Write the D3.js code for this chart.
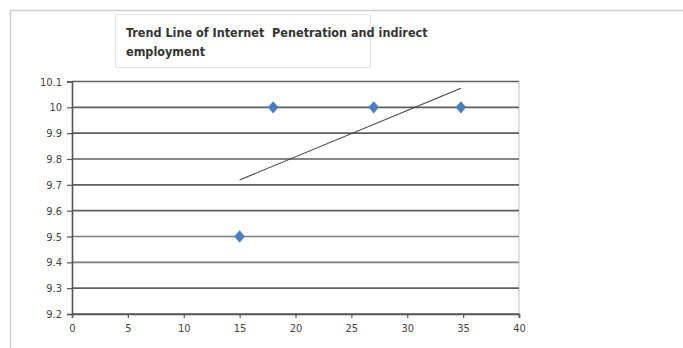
<!DOCTYPE html>
<html>
<head>
<meta charset="utf-8">
<script src="https://cdn.jsdelivr.net/npm/d3@7"></script>
<style>
  html, body { margin: 0; padding: 0; background: #fff; }
  svg { display: block; }
</style>
</head>
<body>
<svg id="chart" width="683" height="348"></svg>
<script>
// Internet penetration (x) vs indirect employment (y)
const penetration = [15, 18, 27, 34.8];
const employment = [9.5, 10, 10, 10];
const xTicks = [0, 5, 10, 15, 20, 25, 30, 35, 40];
const yTicks = [9.2, 9.3, 9.4, 9.5, 9.6, 9.7, 9.8, 9.9, 10, 10.1];
const titleLines = ["Trend Line of Internet\u00a0 Penetration and indirect", "employment"];

const svg = d3.select("#chart");
const W = 683, H = 348;

// outer chart frame
svg.append("rect")
  .attr("x", 10.5).attr("y", 10.5)
  .attr("width", W + 10).attr("height", H + 10)
  .attr("fill", "#fff").attr("stroke", "#cfcfcf").attr("stroke-width", 1.5);

// title box
svg.append("rect")
  .attr("x", 115.5).attr("y", 14.5)
  .attr("width", 255).attr("height", 53)
  .attr("fill", "#fff").attr("stroke", "#e4e4e4").attr("stroke-width", 1);

const title = svg.append("text")
  .attr("font-family", "'Liberation Sans Narrow', 'DejaVu Sans Condensed', sans-serif")
  .attr("font-weight", "bold")
  .attr("font-size", 12.5)
  .attr("fill", "#333");
titleLines.forEach((t, i) => {
  title.append("tspan").attr("x", 126).attr("y", 37 + i * 19).text(t);
});

const x = d3.scaleLinear().domain([0, 40]).range([72, 519]);
const y = d3.scaleLinear().domain([9.2, 10.1]).range([314, 81.5]);

// plot area right border
svg.append("line")
  .attr("x1", x(40)).attr("x2", x(40))
  .attr("y1", y(10.1)).attr("y2", y(9.2))
  .attr("stroke", "#d6d6d6").attr("stroke-width", 1.5);

// horizontal gridlines
svg.append("g")
  .selectAll("line")
  .data(yTicks)
  .join("line")
  .attr("x1", x(0)).attr("x2", x(40))
  .attr("y1", d => y(d)).attr("y2", d => y(d))
  .attr("stroke", d => (d === 9.4 || d === 9.5) ? "#7d7d7d" : "#5e5e5e")
  .attr("stroke-width", 1.7);

const tickFont = "'Liberation Sans Narrow', 'DejaVu Sans Condensed', sans-serif";

// y axis
const yAxis = svg.append("g")
  .attr("transform", `translate(${x(0)},0)`)
  .call(d3.axisLeft(y).tickValues(yTicks).tickSize(5).tickPadding(5)
    .tickFormat(d3.format("~g")));
// x axis
const xAxis = svg.append("g")
  .attr("transform", `translate(0,${y(9.2)})`)
  .call(d3.axisBottom(x).tickValues(xTicks).tickSize(4).tickPadding(6));

[yAxis, xAxis].forEach(g => {
  g.select(".domain").attr("stroke", "#555").attr("stroke-width", 1.6);
  g.selectAll(".tick line").attr("stroke", "#555").attr("stroke-width", 1.2);
  g.selectAll(".tick text")
    .attr("font-family", tickFont)
    .attr("font-size", 11)
    .attr("fill", "#444");
});

// least-squares trend line across the data range
const mx = d3.mean(penetration), my = d3.mean(employment);
const sxy = d3.sum(penetration, (v, i) => (v - mx) * (employment[i] - my));
const sxx = d3.sum(penetration, v => (v - mx) ** 2);
const slope = sxy / sxx, icpt = my - slope * mx;
const [x0, x1] = d3.extent(penetration);
svg.append("line")
  .attr("x1", x(x0)).attr("y1", y(icpt + slope * x0))
  .attr("x2", x(x1)).attr("y2", y(icpt + slope * x1))
  .attr("stroke", "#444").attr("stroke-width", 1.1);

// data markers
const diamond = d3.symbol().type(d3.symbolDiamond2).size(78);
svg.append("g")
  .selectAll("path")
  .data(penetration.map((v, i) => [v, employment[i]]))
  .join("path")
  .attr("d", diamond)
  .attr("transform", d => `translate(${x(d[0])},${y(d[1])}) scale(0.95,1.12)`)
  .attr("fill", "#4a7ebf");
</script>
</body>
</html>
